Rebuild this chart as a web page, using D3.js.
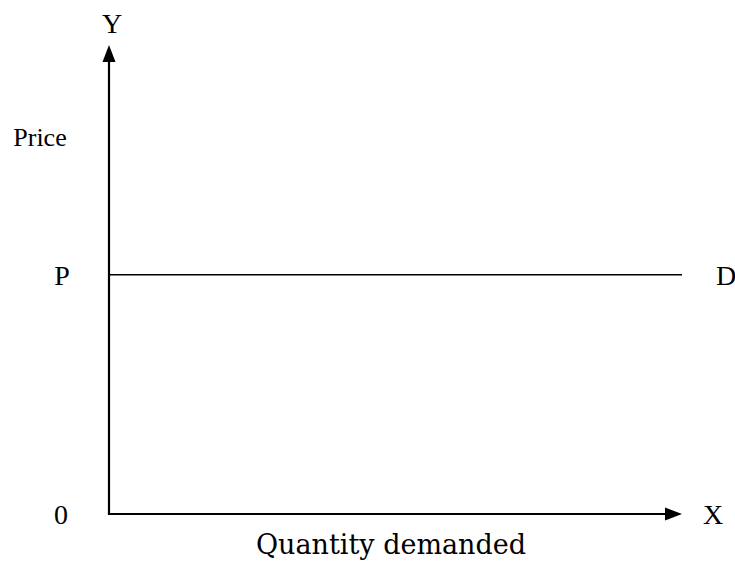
<!DOCTYPE html>
<html>
<head>
<meta charset="utf-8">
<script src="https://cdn.jsdelivr.net/npm/d3@7"></script>
<style>
  body { margin: 0; background: #fff; }
  text { fill: #000; }
  .tm { font-family: "Liberation Serif", "Times New Roman", Times, serif; }
  .pal { font-family: "DejaVu Serif", serif; }
</style>
</head>
<body>
<div id="chart"></div>
<script>
// data
const axisNames = ["X", "Y"];
const originLabel = ["0"];
const priceLevel = [51];          // P, on a 0-100 scale
const demandQty = [0, 100];       // horizontal demand line runs across quantity
const curveLabels = ["P", "D"];
const axisTitles = ["Price", "Quantity demanded"];

const W = 735, H = 561;
const svg = d3.select("#chart").append("svg")
    .attr("width", W).attr("height", H);

const x = d3.scaleLinear().domain([0, 100]).range([109, 682]);
const y = d3.scaleLinear().domain([0, 100]).range([514, 45]);

// axes
svg.append("line")
    .attr("x1", x(0)).attr("y1", y(0)).attr("x2", x(0)).attr("y2", y(100) + 14)
    .attr("stroke", "#000").attr("stroke-width", 2.2);
svg.append("line")
    .attr("x1", x(0) - 1.1).attr("y1", y(0)).attr("x2", x(100) - 14).attr("y2", y(0))
    .attr("stroke", "#000").attr("stroke-width", 2.2);

// arrow heads
svg.append("path")
    .attr("d", `M${x(0)},${y(100)} L${x(0) - 6.5},${y(100) + 17} L${x(0) + 6.5},${y(100) + 17} Z`)
    .attr("fill", "#000");
svg.append("path")
    .attr("d", `M${x(100)},${y(0)} L${x(100) - 17},${y(0) - 6.5} L${x(100) - 17},${y(0) + 6.5} Z`)
    .attr("fill", "#000");

// demand line
svg.append("line")
    .attr("x1", x(demandQty[0])).attr("x2", x(demandQty[1]))
    .attr("y1", y(priceLevel[0])).attr("y2", y(priceLevel[0]))
    .attr("stroke", "#000").attr("stroke-width", 1.5);

// axis letters
svg.append("text").attr("class", "tm").attr("x", x(0) + 3).attr("y", 33)
    .attr("text-anchor", "middle").style("font-size", "28px")
    .text(axisNames[1]);
svg.append("text").attr("class", "tm").attr("x", x(100) + 21).attr("y", y(0) + 10)
    .attr("text-anchor", "start").style("font-size", "28px")
    .text(axisNames[0]);
svg.append("text").attr("class", "tm").attr("x", 61).attr("y", y(0) + 10)
    .attr("text-anchor", "middle").style("font-size", "28px")
    .text(originLabel[0]);

// curve labels
svg.append("text").attr("class", "tm").attr("x", 62).attr("y", y(priceLevel[0]) + 10)
    .attr("text-anchor", "middle").style("font-size", "28px")
    .text(curveLabels[0]);
svg.append("text").attr("class", "tm").attr("x", x(demandQty[1]) + 34).attr("y", y(priceLevel[0]) + 10)
    .attr("text-anchor", "start").style("font-size", "28px")
    .text(curveLabels[1]);

// titles
svg.append("text").attr("class", "tm").attr("x", 40).attr("y", 146)
    .attr("text-anchor", "middle").style("font-size", "26px")
    .text(axisTitles[0]);
svg.append("text").attr("class", "pal").attr("x", 391).attr("y", 554)
    .attr("text-anchor", "middle").style("font-size", "27px")
    .text(axisTitles[1]);
</script>
</body>
</html>
